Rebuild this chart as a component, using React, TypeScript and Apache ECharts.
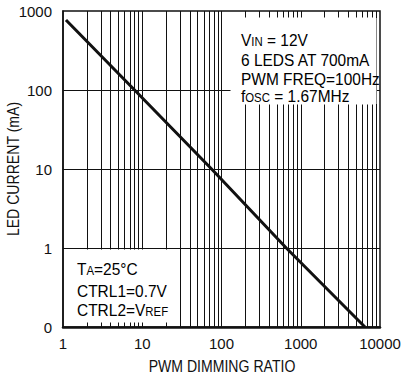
import React, { useEffect, useRef } from "react";
import * as echarts from "echarts";

// PWM dimming ratio vs LED current (log-log)
const dimmingRatio = [1.09, 8, 75, 657, 6460];
const ledCurrent = [770, 100, 10, 1, 0.1];

// vertical gridlines of the log x-axis (decades and minors)
const xGridValues = [
  2, 3, 4, 5, 6, 7, 8, 9, 10,
  20, 30, 40, 50, 60, 70, 80, 90, 100,
  200, 300, 400, 500, 600, 700, 800, 900, 1000,
  2000, 3000, 4000, 5000, 6000, 7000, 8000, 9000,
];
// horizontal gridlines (decades)
const yGridValues = [1, 10, 100];

const xTickLabels = ["1", "10", "100", "1000", "10000"];
const yTickLabels = ["0", "1", "10", "100", "1000"];

const FONT = "'Liberation Sans', Arial, Helvetica, sans-serif";
const INK = "#111";

export default function App() {
  const ref = useRef<HTMLDivElement>(null);

  useEffect(() => {
    if (!ref.current) return;
    const chart = echarts.init(ref.current, null, { renderer: "svg" });

    const rich = {
      n: { fontSize: 17, fontFamily: FONT, color: INK, lineHeight: 20, verticalAlign: "bottom" },
      s: { fontSize: 12.5, fontFamily: FONT, color: INK, lineHeight: 13, verticalAlign: "bottom" },
    };

    const boxText = (x: number, y: number, text: string) => ({
      type: "text",
      x,
      y,
      scaleX: 0.91,
      zlevel: 2,
      z: 110,
      style: { text, rich, verticalAlign: "top", align: "left" },
    });

    const whiteBox = (x: number, y: number, width: number, height: number) => ({
      type: "rect",
      zlevel: 1,
      z: 100,
      silent: true,
      shape: { x, y, width, height },
      style: { fill: "#ffffff", stroke: "#ffffff", lineWidth: 1 },
    });

    const pts = dimmingRatio.map((d, i) => [d, ledCurrent[i]]);

    chart.setOption({
      animation: false,
      backgroundColor: "#fff",
      grid: {
        left: 63,
        right: 29,
        top: 11,
        bottom: 52,
        show: true,
        borderColor: INK,
        borderWidth: 1.5,
        backgroundColor: "transparent",
        outerBoundsMode: "none",
        containLabel: false,
      },
      xAxis: {
        type: "log",
        logBase: 10,
        min: 1,
        max: 10000,
        axisLine: { show: true, lineStyle: { color: INK, width: 2.5 } },
        axisTick: { show: false },
        axisLabel: {
          margin: 9,
          fontSize: 15,
          fontFamily: FONT,
          color: INK,
          formatter: (v: number) => xTickLabels[Math.round(Math.log10(v))] ?? "",
        },
        splitLine: { show: false },
      },
      yAxis: {
        type: "log",
        logBase: 10,
        min: 0.1,
        max: 1000,
        axisLine: { show: true, lineStyle: { color: INK, width: 1.5 } },
        axisTick: { show: false },
        axisLabel: {
          margin: 11,
          fontSize: 15,
          fontFamily: FONT,
          color: INK,
          formatter: (v: number) => yTickLabels[Math.round(Math.log10(v)) + 1] ?? "",
        },
        splitLine: { show: false },
      },
      series: [
        {
          type: "line",
          name: "LED current",
          data: pts,
          showSymbol: false,
          lineStyle: { color: INK, width: 3 },
          z: 6,
          markLine: {
            silent: true,
            z: 1,
            symbol: ["none", "none"],
            label: { show: false },
            lineStyle: { color: INK, width: 1, type: "solid" },
            data: [
              ...xGridValues.map((v) => ({ xAxis: v })),
              ...yGridValues.map((v) => ({ yAxis: v })),
            ],
          },
        },
      ],
      graphic: [
        whiteBox(231, 18, 145, 86),
        whiteBox(65, 250, 110, 72),
        {
          type: "text",
          x: 222,
          y: 358,
          scaleX: 0.88,
          z: 110,
          style: {
            text: "PWM DIMMING RATIO",
            fontSize: 16,
            fontFamily: FONT,
            fill: INK,
            align: "center",
            verticalAlign: "top",
          },
        },
        {
          type: "text",
          x: 13,
          y: 169,
          rotation: Math.PI / 2,
          scaleX: 0.88,
          z: 110,
          style: {
            text: "LED CURRENT (mA)",
            fontSize: 16,
            fontFamily: FONT,
            fill: INK,
            align: "center",
            verticalAlign: "middle",
          },
        },
        boxText(241, 28, "{n|V}{s|IN}{n| = 12V}"),
        boxText(241, 48, "{n|6 LEDS AT 700mA}"),
        boxText(241, 67, "{n|PWM FREQ=100Hz}"),
        boxText(241, 84, "{n|f}{s|OSC}{n| = 1.67MHz}"),
        boxText(77, 257, "{n|T}{s|A}{n|=25°C}"),
        boxText(77, 279, "{n|CTRL1=0.7V}"),
        boxText(77, 298, "{n|CTRL2=V}{s|REF}"),
      ],
    });

    return () => chart.dispose();
  }, []);

  return (
    <div
      ref={ref}
      style={{ position: "fixed", left: 0, top: 0, width: 409, height: 379 }}
    />
  );
}
